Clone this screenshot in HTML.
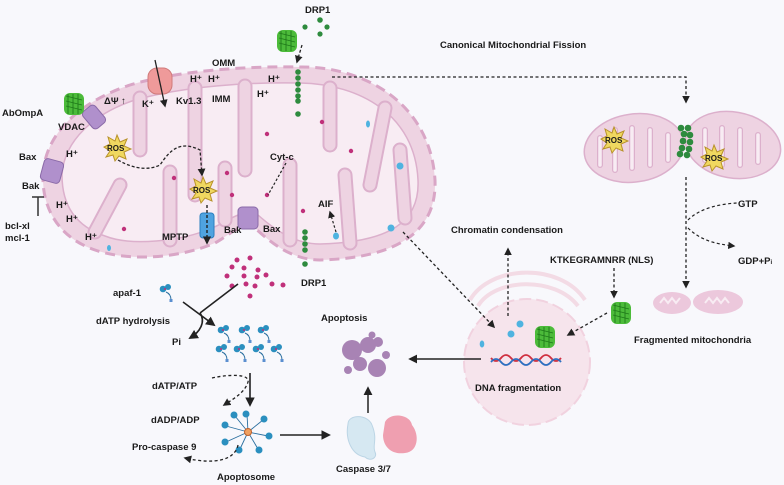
<!DOCTYPE html>
<html><head><meta charset="utf-8"><style>
html,body{margin:0;padding:0;background:#f8f8fc;}
svg{display:block;}
text{font-family:"Liberation Sans",sans-serif;font-weight:bold;font-size:9.5px;fill:#1a1a1a;}
</style></head><body>
<svg width="784" height="485" viewBox="0 0 784 485" xmlns="http://www.w3.org/2000/svg">
<defs>
<marker id="ah" viewBox="0 0 10 10" refX="8" refY="5" markerWidth="6" markerHeight="6" orient="auto"><path d="M0,0L10,5L0,10z" fill="#222"/></marker>
<g id="gfp"><rect x="-10" y="-11" width="20" height="22" rx="6" fill="#4cbb3a"/><path d="M-8,-8l16,4M-8,-3l16,4M-8,2l16,4M-6,-10l0,20M-1,-10l0,20M4,-10l0,20" stroke="#1f7a1a" stroke-width="0.9" fill="none"/></g>
<g id="apaf"><circle cx="-3" cy="-3" r="3.3" fill="#2b8fbf"/><circle cx="2" cy="-5" r="3" fill="#2b8fbf"/><circle cx="-1" cy="-3" r="1" fill="#c0307a"/><path d="M0,0 q5,2 5,8" stroke="#2b6f9f" stroke-width="1" fill="none"/><rect x="3.5" y="7" width="3" height="3" fill="#5b8fd0"/></g>
<g id="star"><polygon points="0,-13 3,-6 10,-9 7,-2 14,1 7,4 9,11 2,8 -2,13 -4,7 -11,9 -7,3 -13,-1 -7,-4 -9,-11 -2,-7" fill="#f0d860" stroke="#b8922a" stroke-width="1"/></g>
</defs>

<path d="M43,175 C45,130 85,100 130,85 C180,70 250,66 300,67 C360,66 430,100 435,180 C437,230 400,258 320,260 C290,260 268,240 255,228 C240,222 230,235 215,243 C180,258 130,262 95,250 C60,238 42,210 43,175 Z" fill="#eed3e2" stroke="#d9a6c6" stroke-width="3" stroke-dasharray="10 6"/>
<path d="M62,175 C64,140 95,113 135,100 C185,86 250,82 300,83 C360,84 415,115 418,180 C420,222 390,242 320,244 C295,244 275,230 258,215 C240,208 228,222 212,228 C180,242 130,246 105,236 C75,226 62,205 62,175 Z" fill="#f8ecf3" stroke="#dcb0cc" stroke-width="1.5"/>
<g stroke-linecap="round" fill="none">
<g stroke="#dcb0cc" stroke-width="15">
<path d="M140,98 L140,150"/><path d="M195,88 L195,195"/><path d="M245,86 L245,170"/><path d="M330,88 L330,145"/><path d="M385,108 L370,185"/>
<path d="M95,232 L120,185"/><path d="M170,240 L170,172"/><path d="M225,220 L225,168"/><path d="M290,240 L290,165"/><path d="M350,243 L345,175"/><path d="M405,218 L400,150"/>
</g>
<g stroke="#eed3e2" stroke-width="11">
<path d="M140,98 L140,150"/><path d="M195,88 L195,195"/><path d="M245,86 L245,170"/><path d="M330,88 L330,145"/><path d="M385,108 L370,185"/>
<path d="M95,232 L120,185"/><path d="M170,240 L170,172"/><path d="M225,220 L225,168"/><path d="M290,240 L290,165"/><path d="M350,243 L345,175"/><path d="M405,218 L400,150"/>
</g></g>
<g fill="#c0307a"><circle cx="267" cy="134" r="2.2"/><circle cx="174" cy="178" r="2.2"/><circle cx="227" cy="173" r="2.2"/><circle cx="232" cy="195" r="2.2"/><circle cx="267" cy="195" r="2.2"/><circle cx="303" cy="211" r="2.2"/><circle cx="322" cy="122" r="2.2"/><circle cx="351" cy="151" r="2.2"/><circle cx="124" cy="229" r="2.2"/></g>
<g fill="#4fb3e0"><ellipse cx="109" cy="248" rx="2" ry="3"/><ellipse cx="368" cy="124" rx="2" ry="3.5"/><circle cx="400" cy="166" r="3.5"/><circle cx="391" cy="228" r="3.5"/><ellipse cx="336" cy="236" rx="3" ry="3.5"/></g>

<g fill="#2e8b3e"><circle cx="305" cy="27" r="2.6"/><circle cx="320" cy="20" r="2.8"/><circle cx="327" cy="27" r="2.6"/><circle cx="320" cy="34" r="2.6"/>
<circle cx="298" cy="72" r="2.8"/><circle cx="298" cy="78" r="2.8"/><circle cx="298" cy="84" r="2.8"/><circle cx="298" cy="90" r="2.8"/><circle cx="298" cy="96" r="2.8"/><circle cx="298" cy="101" r="2.8"/><circle cx="298" cy="114" r="2.8"/>
<circle cx="305" cy="232" r="2.8"/><circle cx="305" cy="238" r="2.8"/><circle cx="305" cy="244" r="2.8"/><circle cx="305" cy="250" r="2.8"/><circle cx="305" cy="264" r="2.8"/></g>
<use href="#gfp" x="287" y="41"/>
<path d="M302,45 L297,62" stroke="#222" stroke-width="1.3" stroke-dasharray="3 2" marker-end="url(#ah)"/>

<rect x="148" y="68" width="24" height="26" rx="9" fill="#ef9a9a" stroke="#d07a7a"/>
<path d="M155,60 L165,106" stroke="#222" stroke-width="1.3" marker-end="url(#ah)"/>
<rect x="86" y="106" width="16" height="22" rx="4" fill="#b090cc" stroke="#8a6aa8" transform="rotate(-40 94 117)"/>
<use href="#gfp" x="74" y="104"/>
<rect x="42" y="160" width="20" height="22" rx="4" fill="#b090cc" stroke="#8a6aa8" transform="rotate(15 52 171)"/>
<rect x="200" y="213" width="14" height="25" rx="3" fill="#4fa3e0" stroke="#2b7fbf"/>
<path d="M207,205 L207,243" stroke="#222" stroke-width="1.4" stroke-dasharray="3 2" marker-end="url(#ah)"/>
<rect x="238" y="207" width="20" height="22" rx="4" fill="#b090cc" stroke="#8a6aa8"/>

<use href="#star" x="117" y="148"/><text x="107" y="151" style="font-size:8px">ROS</text>
<use href="#star" x="203" y="190"/><text x="193" y="193" style="font-size:8px">ROS</text>
<path d="M118,160 C135,170 150,170 160,165 C170,150 180,140 200,150 L202,175" stroke="#222" stroke-width="1.3" stroke-dasharray="3 2" fill="none" marker-end="url(#ah)"/>
<path d="M286,163 L268,195" stroke="#222" stroke-width="1.2" stroke-dasharray="2.5 2" fill="none"/>
<path d="M336,232 L330,212" stroke="#222" stroke-width="1.2" stroke-dasharray="2.5 2" fill="none" marker-end="url(#ah)"/>

<text x="212" y="66">OMM</text>
<text x="190" y="82">H⁺</text><text x="208" y="82">H⁺</text><text x="268" y="82">H⁺</text><text x="257" y="97">H⁺</text>
<text x="212" y="102">IMM</text><text x="176" y="104">Kv1.3</text><text x="142" y="107">K⁺</text><text x="104" y="104">ΔΨ ↑</text>
<text x="2" y="116">AbOmpA</text><text x="58" y="130">VDAC</text>
<text x="66" y="157">H⁺</text><text x="19" y="160">Bax</text><text x="22" y="189">Bak</text>
<path d="M38,197 L38,216 M32,197 L44,197" stroke="#333" stroke-width="1.5"/>
<text x="5" y="229">bcl-xl</text><text x="5" y="241">mcl-1</text>
<text x="56" y="208">H⁺</text><text x="66" y="222">H⁺</text><text x="85" y="240">H⁺</text>
<text x="162" y="240">MPTP</text><text x="224" y="233">Bak</text><text x="263" y="232">Bax</text>
<text x="270" y="160">Cyt-c</text><text x="318" y="207">AIF</text>
<text x="305" y="13">DRP1</text><text x="301" y="286">DRP1</text>

<text x="440" y="48">Canonical Mitochondrial Fission</text>
<path d="M332,77 L686,77 L686,102" stroke="#222" stroke-width="1.3" stroke-dasharray="3 2.5" fill="none" marker-end="url(#ah)"/>
<ellipse cx="634" cy="148" rx="50" ry="34" fill="#eed3e2" stroke="#dcb0cc" stroke-width="1.5" transform="rotate(-8 634 148)"/>
<ellipse cx="733" cy="145" rx="48" ry="33" fill="#eed3e2" stroke="#dcb0cc" stroke-width="1.5" transform="rotate(10 733 145)"/>
<g stroke="#dcb0cc" stroke-width="6" stroke-linecap="round"><path d="M600,138 L600,165 M615,130 L615,170 M632,128 L632,168 M650,130 L650,165 M668,135 L668,160 M705,130 L705,160 M722,128 L722,165 M740,130 L740,165 M758,135 L758,162"/></g>
<g stroke="#f8ecf3" stroke-width="3.5" stroke-linecap="round"><path d="M600,138 L600,165 M615,130 L615,170 M632,128 L632,168 M650,130 L650,165 M668,135 L668,160 M705,130 L705,160 M722,128 L722,165 M740,130 L740,165 M758,135 L758,162"/></g>
<g fill="#2e8b3e"><circle cx="681" cy="128" r="3.3"/><circle cx="688" cy="128" r="3.3"/><circle cx="684" cy="134" r="3.3"/><circle cx="690" cy="135" r="3.3"/><circle cx="683" cy="141" r="3.3"/><circle cx="690" cy="142" r="3.3"/><circle cx="682" cy="148" r="3.3"/><circle cx="689" cy="149" r="3.3"/><circle cx="680" cy="154" r="3.3"/><circle cx="687" cy="155" r="3.3"/></g>
<use href="#star" x="614" y="140"/><text x="605" y="143" style="font-size:8px">ROS</text>
<use href="#star" x="714" y="158"/><text x="705" y="161" style="font-size:8px">ROS</text>
<path d="M686,177 L686,287" stroke="#222" stroke-width="1.3" stroke-dasharray="3 2.5" fill="none" marker-end="url(#ah)"/>
<path d="M688,220 C700,208 720,204 737,203" stroke="#222" stroke-width="1.2" stroke-dasharray="3 2.5" fill="none"/>
<path d="M688,228 C700,240 715,244 734,246" stroke="#222" stroke-width="1.2" stroke-dasharray="3 2.5" fill="none" marker-end="url(#ah)"/>
<text x="738" y="207">GTP</text><text x="738" y="264">GDP+P<tspan style="font-size:6px">i</tspan></text>
<ellipse cx="672" cy="303" rx="19" ry="11" fill="#ecc8dc"/><ellipse cx="718" cy="302" rx="25" ry="12" fill="#ecc8dc"/>
<path d="M660,303 l4,-5 l4,5 l4,-5 l4,5 l4,-5 M705,303 l4,-5 l4,5 l4,-5 l4,5 l4,-5 l4,5" stroke="#f8ecf3" stroke-width="2" fill="none"/>
<text x="634" y="343">Fragmented mitochondria</text>

<g fill="none" stroke="#f3dbe5" stroke-width="4"><path d="M470,300 C490,265 560,262 585,300"/><path d="M478,306 C495,278 555,276 578,306"/></g>
<circle cx="527" cy="362" r="63" fill="#f6e4ec" stroke="#f1d2df" stroke-width="2" stroke-dasharray="12 5"/>
<text x="451" y="233">Chromatin condensation</text>
<path d="M508,316 L508,249" stroke="#222" stroke-width="1.3" stroke-dasharray="3 2.5" fill="none" marker-end="url(#ah)"/>
<text x="550" y="263">KTKEGRAMNRR (NLS)</text>
<path d="M614,268 L614,297" stroke="#222" stroke-width="1.3" stroke-dasharray="3 2.5" fill="none" marker-end="url(#ah)"/>
<use href="#gfp" x="621" y="313"/>
<path d="M607,313 L568,335" stroke="#222" stroke-width="1.3" stroke-dasharray="3 2.5" fill="none" marker-end="url(#ah)"/>
<path d="M403,232 L494,327" stroke="#222" stroke-width="1.3" stroke-dasharray="3 2.5" fill="none" marker-end="url(#ah)"/>
<g fill="#4fb3e0"><ellipse cx="482" cy="344" rx="2.3" ry="3.5"/><circle cx="511" cy="334" r="3.5"/><circle cx="520" cy="324" r="3.5"/></g>
<use href="#gfp" x="545" y="337"/>
<path d="M491,358 q5,6 10,0 t10,0 t10,0 t10,0 t10,0 t10,0 t10,0" stroke="#d03040" stroke-width="1.8" fill="none"/>
<path d="M491,362 q5,-6 10,0 t10,0 t10,0 t10,0 t10,0 t10,0 t10,0" stroke="#2e6fc0" stroke-width="1.8" fill="none"/>
<text x="475" y="391">DNA fragmentation</text>
<path d="M481,359 L410,359" stroke="#222" stroke-width="1.5" marker-end="url(#ah)"/>

<text x="321" y="321">Apoptosis</text>
<g fill="#a883b4"><circle cx="352" cy="350" r="10"/><circle cx="368" cy="345" r="8"/><circle cx="378" cy="342" r="5"/><circle cx="372" cy="335" r="3.5"/><circle cx="360" cy="364" r="7"/><circle cx="377" cy="368" r="9"/><circle cx="348" cy="370" r="4"/><circle cx="386" cy="355" r="4"/></g>
<path d="M368,413 L368,388" stroke="#222" stroke-width="1.5" marker-end="url(#ah)"/>
<path d="M348,424 C348,414 368,414 372,425 C378,440 372,445 375,452 C378,458 370,462 365,457 C352,455 345,440 348,424Z" fill="#d6e8f2" stroke="#bcd5e5"/>
<path d="M385,422 C390,412 410,414 412,425 C420,435 418,452 405,453 C392,455 383,447 383,435Z" fill="#ef9fb0"/>
<text x="336" y="472">Caspase 3/7</text>

<g fill="#c0307a"><circle cx="237" cy="260" r="2.5"/><circle cx="250" cy="258" r="2.5"/><circle cx="232" cy="267" r="2.5"/><circle cx="244" cy="268" r="2.5"/><circle cx="258" cy="270" r="2.5"/><circle cx="227" cy="276" r="2.5"/><circle cx="244" cy="276" r="2.5"/><circle cx="257" cy="277" r="2.5"/><circle cx="266" cy="275" r="2.5"/><circle cx="272" cy="284" r="2.5"/><circle cx="246" cy="284" r="2.5"/><circle cx="232" cy="286" r="2.5"/><circle cx="255" cy="286" r="2.5"/><circle cx="283" cy="285" r="2.5"/><circle cx="250" cy="296" r="2.5"/></g>
<text x="113" y="296">apaf-1</text><use href="#apaf" x="166" y="292"/>
<text x="96" y="324">dATP hydrolysis</text><text x="172" y="345">Pi</text>
<path d="M238,284 L200,313" stroke="#222" stroke-width="1.6"/>
<path d="M183,302 L214,325" stroke="#222" stroke-width="1.6" marker-end="url(#ah)"/>
<path d="M200,313 C206,322 200,332 190,338" stroke="#222" stroke-width="1.6" fill="none" marker-end="url(#ah)"/>
<use href="#apaf" x="224" y="333"/><use href="#apaf" x="245" y="333"/><use href="#apaf" x="264" y="333"/>
<use href="#apaf" x="222" y="352"/><use href="#apaf" x="240" y="352"/><use href="#apaf" x="259" y="352"/><use href="#apaf" x="277" y="352"/>
<text x="152" y="389">dATP/ATP</text><text x="151" y="423">dADP/ADP</text><text x="132" y="450">Pro-caspase 9</text><text x="217" y="480">Apoptosome</text>
<path d="M250,373 L250,405" stroke="#222" stroke-width="1.6" marker-end="url(#ah)"/>
<path d="M212,378 C230,374 250,374 248,382 C245,392 235,398 224,405" stroke="#222" stroke-width="1.3" stroke-dasharray="3 2.5" fill="none" marker-end="url(#ah)"/>
<g stroke="#2b6f9f" stroke-width="0.9"><path d="M248,432 L247,414 M248,432 L263,420 M248,432 L268,436 M248,432 L258,449 M248,432 L240,449 M248,432 L226,442 M248,432 L226,426 M248,432 L235,416"/></g>
<g fill="#2b8fbf"><circle cx="246" cy="414" r="3.5"/><circle cx="264" cy="419" r="3.5"/><circle cx="269" cy="436" r="3.5"/><circle cx="259" cy="450" r="3.5"/><circle cx="239" cy="450" r="3.5"/><circle cx="225" cy="442" r="3.5"/><circle cx="225" cy="425" r="3.5"/><circle cx="234" cy="415" r="3.5"/></g>
<circle cx="248" cy="432" r="3.5" fill="#f0a060" stroke="#c0602a"/>
<path d="M238,445 C235,460 215,465 185,458" stroke="#222" stroke-width="1.3" stroke-dasharray="3 2.5" fill="none" marker-end="url(#ah)"/>
<path d="M280,435 L329,435" stroke="#222" stroke-width="1.6" marker-end="url(#ah)"/>
</svg>
</body></html>
